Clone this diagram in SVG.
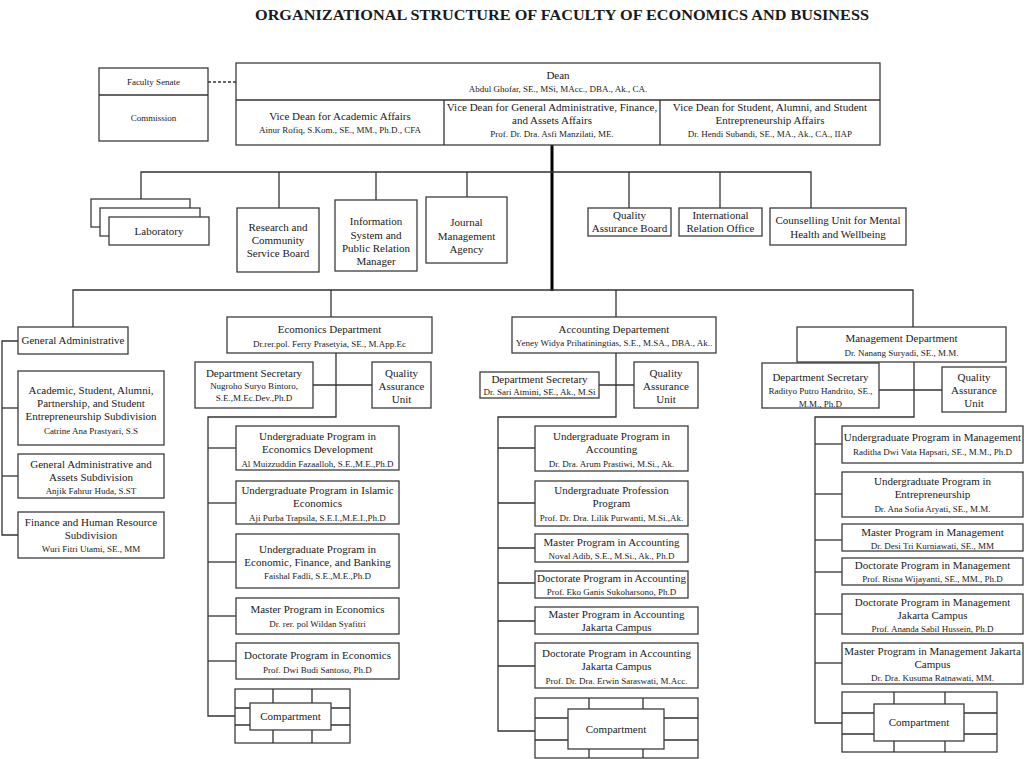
<svg xmlns="http://www.w3.org/2000/svg" width="1024" height="759" viewBox="0 0 1024 759">
<style>
.b{fill:#fff;stroke:#3c3c3c;stroke-width:1.3}
.c{fill:none;stroke:#333;stroke-width:1.3}
.t{font-family:"Liberation Serif","Times New Roman",serif;font-size:11px;text-anchor:middle;fill:#1a1a1a}
.n{font-size:9px}
.s{font-size:9px}
</style>
<rect width="1024" height="759" fill="#fff"/>
<text x="562" y="20" class="t" style="font-size:15px;font-weight:bold" textLength="614" lengthAdjust="spacingAndGlyphs">ORGANIZATIONAL STRUCTURE OF FACULTY OF ECONOMICS AND BUSINESS</text>

<g id="connectors">
<line x1="208" y1="82" x2="236" y2="82" class="c" stroke-dasharray="3,2"/>
<line x1="552" y1="145" x2="552" y2="291" stroke="#000" stroke-width="3"/>
<polyline class="c" points="141,199 141,172 811,172 811,208"/>
<line class="c" x1="279" y1="172" x2="279" y2="208"/>
<line class="c" x1="376" y1="172" x2="376" y2="200"/>
<line class="c" x1="467" y1="172" x2="467" y2="197"/>
<line class="c" x1="629" y1="172" x2="629" y2="208"/>
<line class="c" x1="720" y1="172" x2="720" y2="208"/>
<polyline class="c" points="73,327 73,290 913,290 913,327"/>
<line class="c" x1="331" y1="290" x2="331" y2="317"/>
<line class="c" x1="616" y1="290" x2="616" y2="317"/>
<polyline class="c" points="18,341 2,341 2,535 18,535"/>
<line class="c" x1="2" y1="408" x2="18" y2="408"/>
<line class="c" x1="2" y1="476" x2="18" y2="476"/>
<polyline class="c" points="336,353 336,417 208,417 208,716 236,716"/>
<line class="c" x1="313" y1="385" x2="372" y2="385"/>
<line class="c" x1="208" y1="448" x2="236" y2="448"/>
<line class="c" x1="208" y1="503" x2="236" y2="503"/>
<line class="c" x1="208" y1="562" x2="236" y2="562"/>
<line class="c" x1="208" y1="616" x2="236" y2="616"/>
<line class="c" x1="208" y1="661" x2="236" y2="661"/>
<polyline class="c" points="616,353 616,417 498,417 498,731 535,731"/>
<line class="c" x1="599" y1="385" x2="634" y2="385"/>
<line class="c" x1="498" y1="448" x2="535" y2="448"/>
<line class="c" x1="498" y1="503" x2="535" y2="503"/>
<line class="c" x1="498" y1="548" x2="535" y2="548"/>
<line class="c" x1="498" y1="583" x2="535" y2="583"/>
<line class="c" x1="498" y1="621" x2="535" y2="621"/>
<line class="c" x1="498" y1="666" x2="535" y2="666"/>
<polyline class="c" points="914,362 914,417 815,417 815,723 842,723"/>
<line class="c" x1="879" y1="390" x2="942" y2="390"/>
<line class="c" x1="815" y1="444" x2="842" y2="444"/>
<line class="c" x1="815" y1="494" x2="842" y2="494"/>
<line class="c" x1="815" y1="540" x2="842" y2="540"/>
<line class="c" x1="815" y1="572" x2="842" y2="572"/>
<line class="c" x1="815" y1="614" x2="842" y2="614"/>
<line class="c" x1="815" y1="663" x2="842" y2="663"/>
</g>

<g id="senate">
<rect class="b" x="99" y="68" width="109" height="73"/>
<line class="c" x1="99" y1="95" x2="208" y2="95"/>
<text class="t s" x="153.5" y="85">Faculty Senate</text>
<text class="t s" x="153.5" y="121">Commission</text>
</g>

<g id="dean">
<rect class="b" x="236" y="63" width="644" height="82"/>
<line class="c" x1="236" y1="100" x2="880" y2="100"/>
<line class="c" x1="444" y1="100" x2="444" y2="145"/>
<line class="c" x1="660" y1="100" x2="660" y2="145"/>
<text class="t" x="558" y="79">Dean</text>
<text class="t n" x="558" y="92">Abdul Ghofar, SE., MSi, MAcc., DBA., Ak., CA.</text>
<text class="t" x="340" y="120">Vice Dean for Academic Affairs</text>
<text class="t n" x="340" y="133">Ainur Rofiq, S.Kom., SE., MM., Ph.D., CFA</text>
<text class="t" x="552" y="111">Vice Dean for General Administrative, Finance,</text>
<text class="t" x="552" y="124">and Assets Affairs</text>
<text class="t n" x="552" y="137">Prof. Dr. Dra. Asfi Manzilati, ME.</text>
<text class="t" x="770" y="111">Vice Dean for Student, Alumni, and Student</text>
<text class="t" x="770" y="124">Entrepreneurship Affairs</text>
<text class="t n" x="770" y="137">Dr. Hendi Subandi, SE., MA., Ak., CA., IIAP</text>
</g>

<g id="laboratory">
<rect class="b" x="91" y="199" width="99" height="28"/>
<rect class="b" x="100" y="208" width="100" height="28"/>
<rect class="b" x="109" y="217" width="100" height="28"/>
<text class="t" x="159" y="235">Laboratory</text>
</g>
<g id="research">
<rect class="b" x="237" y="208" width="82" height="64"/>
<text class="t" x="278" y="231">Research and</text>
<text class="t" x="278" y="244">Community</text>
<text class="t" x="278" y="257">Service Board</text>
</g>
<g id="infosys">
<rect class="b" x="335" y="200" width="82" height="71"/>
<text class="t" x="376" y="225">Information</text>
<text class="t" x="376" y="239">System and</text>
<text class="t" x="376" y="252">Public Relation</text>
<text class="t" x="376" y="265">Manager</text>
</g>
<g id="journal">
<rect class="b" x="426" y="197" width="81" height="66"/>
<text class="t" x="466.5" y="226">Journal</text>
<text class="t" x="466.5" y="240">Management</text>
<text class="t" x="466.5" y="253">Agency</text>
</g>
<g id="qab">
<rect class="b" x="588" y="208" width="83" height="28"/>
<text class="t" x="629.5" y="219">Quality</text>
<text class="t" x="629.5" y="232">Assurance Board</text>
</g>
<g id="intl">
<rect class="b" x="679" y="208" width="83" height="28"/>
<text class="t" x="720.5" y="219">International</text>
<text class="t" x="720.5" y="232">Relation Office</text>
</g>
<g id="counselling">
<rect class="b" x="770" y="208" width="136" height="37"/>
<text class="t" x="838" y="224">Counselling Unit for Mental</text>
<text class="t" x="838" y="238">Health and Wellbeing</text>
</g>

<g id="general-admin">
<rect class="b" x="18" y="327" width="110" height="27"/>
<text class="t" x="73" y="344">General Administrative</text>
</g>
<g id="ga-academic">
<rect class="b" x="18" y="371" width="146" height="74"/>
<text class="t" x="91" y="394">Academic, Student, Alumni,</text>
<text class="t" x="91" y="407">Partnership, and Student</text>
<text class="t" x="91" y="420">Entrepreneurship Subdivision</text>
<text class="t n" x="91" y="434">Catrine Ana Prastyari, S.S</text>
</g>
<g id="ga-assets">
<rect class="b" x="18" y="454" width="146" height="44"/>
<text class="t" x="91" y="468">General Administrative and</text>
<text class="t" x="91" y="481">Assets Subdivision</text>
<text class="t n" x="91" y="494">Anjik Fahrur Huda, S.ST</text>
</g>
<g id="ga-finance">
<rect class="b" x="18" y="512" width="146" height="46"/>
<text class="t" x="91" y="526">Finance and Human Resource</text>
<text class="t" x="91" y="539">Subdivision</text>
<text class="t n" x="91" y="552">Wuri Fitri Utami, SE., MM</text>
</g>

<g id="econ-dept">
<rect class="b" x="227" y="317" width="205" height="36"/>
<text class="t" x="329.5" y="333">Ecomonics Department</text>
<text class="t n" x="329.5" y="347">Dr.rer.pol. Ferry Prasetyia, SE., M.App.Ec</text>
</g>
<g id="econ-sec">
<rect class="b" x="195" y="362" width="118" height="46"/>
<text class="t" x="254" y="377">Department Secretary</text>
<text class="t n" x="254" y="389">Nugroho Suryo Bintoro,</text>
<text class="t n" x="254" y="401">S.E.,M.Ec.Dev.,Ph.D</text>
</g>
<g id="econ-qau">
<rect class="b" x="372" y="362" width="59" height="46"/>
<text class="t" x="401.5" y="377">Quality</text>
<text class="t" x="401.5" y="390">Assurance</text>
<text class="t" x="401.5" y="403">Unit</text>
</g>
<g id="econ-p1">
<rect class="b" x="236" y="426" width="163" height="44"/>
<text class="t" x="317.5" y="440">Undergraduate Program in</text>
<text class="t" x="317.5" y="453">Economics Development</text>
<text class="t n" x="317.5" y="467">Al Muizzuddin Fazaalloh, S.E.,M.E.,Ph.D</text>
</g>
<g id="econ-p2">
<rect class="b" x="236" y="481" width="163" height="43"/>
<text class="t" x="317.5" y="494">Undergraduate Program in Islamic</text>
<text class="t" x="317.5" y="507">Economics</text>
<text class="t n" x="317.5" y="521">Aji Purba Trapsila, S.E.I.,M.E.I.,Ph.D</text>
</g>
<g id="econ-p3">
<rect class="b" x="236" y="534" width="163" height="54"/>
<text class="t" x="317.5" y="553">Undergraduate Program in</text>
<text class="t" x="317.5" y="566">Economic, Finance, and Banking</text>
<text class="t n" x="317.5" y="579">Faishal Fadli, S.E.,M.E.,Ph.D</text>
</g>
<g id="econ-p4">
<rect class="b" x="236" y="598" width="163" height="36"/>
<text class="t" x="317.5" y="613">Master Program in Economics</text>
<text class="t n" x="317.5" y="627">Dr. rer. pol Wildan Syafitri</text>
</g>
<g id="econ-p5">
<rect class="b" x="236" y="643" width="163" height="36"/>
<text class="t" x="317.5" y="659">Doctorate Program in Economics</text>
<text class="t n" x="317.5" y="673">Prof. Dwi Budi Santoso, Ph.D</text>
</g>
<g id="econ-comp">
<rect class="b" x="235" y="689" width="115" height="54"/>
<path class="c" d="M273,689V703M312,689V703M273,730V743M312,730V743M235,708H250M235,725H250M331,708H350M331,725H350"/>
<rect class="b" x="250" y="703" width="81" height="27"/>
<text class="t" x="290.5" y="720">Compartment</text>
</g>

<g id="acc-dept">
<rect class="b" x="512" y="317" width="204" height="36"/>
<text class="t" x="614" y="333">Accounting Departement</text>
<text class="t n" x="614" y="346">Yeney Widya Prihatiningtias, S.E., M.SA., DBA., Ak..</text>
</g>
<g id="acc-sec">
<rect class="b" x="480" y="372" width="119" height="26"/>
<text class="t" x="539.5" y="383">Department Secretary</text>
<text class="t n" x="539.5" y="395">Dr. Sari Atmini, SE., Ak., M.Si</text>
</g>
<g id="acc-qau">
<rect class="b" x="634" y="362" width="64" height="46"/>
<text class="t" x="666" y="377">Quality</text>
<text class="t" x="666" y="390">Assurance</text>
<text class="t" x="666" y="403">Unit</text>
</g>
<g id="acc-p1">
<rect class="b" x="535" y="426" width="153" height="45"/>
<text class="t" x="611.5" y="440">Undergraduate Program in</text>
<text class="t" x="611.5" y="453">Accounting</text>
<text class="t n" x="611.5" y="467">Dr. Dra. Arum Prastiwi, M.Si., Ak.</text>
</g>
<g id="acc-p2">
<rect class="b" x="535" y="481" width="153" height="45"/>
<text class="t" x="611.5" y="494">Undergraduate Profession</text>
<text class="t" x="611.5" y="507">Program</text>
<text class="t n" x="611.5" y="521">Prof. Dr. Dra. Lilik Purwanti, M.Si.,Ak.</text>
</g>
<g id="acc-p3">
<rect class="b" x="535" y="534" width="153" height="28"/>
<text class="t" x="611.5" y="546">Master Program in Accounting</text>
<text class="t n" x="611.5" y="559">Noval Adib, S.E., M.Si., Ak., Ph.D</text>
</g>
<g id="acc-p4">
<rect class="b" x="535" y="571" width="153" height="27"/>
<text class="t" x="611.5" y="582">Doctorate Program in Accounting</text>
<text class="t n" x="611.5" y="595">Prof. Eko Ganis Sukoharsono, Ph.D</text>
</g>
<g id="acc-p5">
<rect class="b" x="535" y="607" width="163" height="27"/>
<text class="t" x="616.5" y="618">Master Program in Accounting</text>
<text class="t" x="616.5" y="631">Jakarta Campus</text>
</g>
<g id="acc-p6">
<rect class="b" x="535" y="643" width="163" height="45"/>
<text class="t" x="616.5" y="657">Doctorate Program in Accounting</text>
<text class="t" x="616.5" y="670">Jakarta Campus</text>
<text class="t n" x="616.5" y="684">Prof. Dr. Dra. Erwin Saraswati, M.Acc.</text>
</g>
<g id="acc-comp">
<rect class="b" x="535" y="698" width="163" height="60"/>
<path class="c" d="M589,698V709M643,698V709M589,749V758M643,749V758M535,718H568M535,740H568M664,718H698M664,740H698"/>
<rect class="b" x="568" y="709" width="96" height="40"/>
<text class="t" x="616" y="733">Compartment</text>
</g>

<g id="mgmt-dept">
<rect class="b" x="797" y="327" width="209" height="35"/>
<text class="t" x="901.5" y="342">Management Department</text>
<text class="t n" x="901.5" y="356">Dr. Nanang Suryadi, SE., M.M.</text>
</g>
<g id="mgmt-sec">
<rect class="b" x="762" y="363" width="117" height="45"/>
<text class="t" x="820.5" y="381">Department Secretary</text>
<text class="t n" x="820.5" y="394">Radityo Putro Handrito, SE.,</text>
<text class="t n" x="820.5" y="407">M.M., Ph.D</text>
</g>
<g id="mgmt-qau">
<rect class="b" x="942" y="367" width="64" height="45"/>
<text class="t" x="974" y="381">Quality</text>
<text class="t" x="974" y="394">Assurance</text>
<text class="t" x="974" y="407">Unit</text>
</g>
<g id="mgmt-p1">
<rect class="b" x="842" y="426" width="181" height="37"/>
<text class="t" x="932.5" y="441">Undergraduate Program in Management</text>
<text class="t n" x="932.5" y="455">Raditha Dwi Vata Hapsari, SE., M.M., Ph.D</text>
</g>
<g id="mgmt-p2">
<rect class="b" x="842" y="472" width="181" height="45"/>
<text class="t" x="932.5" y="485">Undergraduate Program in</text>
<text class="t" x="932.5" y="498">Entrepreneurship</text>
<text class="t n" x="932.5" y="512">Dr. Ana Sofia Aryati, SE., M.M.</text>
</g>
<g id="mgmt-p3">
<rect class="b" x="842" y="524" width="181" height="27"/>
<text class="t" x="932.5" y="536">Master Program in Management</text>
<text class="t n" x="932.5" y="549">Dr. Desi Tri Kurniawati, SE., MM</text>
</g>
<g id="mgmt-p4">
<rect class="b" x="842" y="558" width="181" height="27"/>
<text class="t" x="932.5" y="569">Doctorate Program in Management</text>
<text class="t n" x="932.5" y="582">Prof. Risna Wijayanti, SE., MM., Ph.D</text>
</g>
<g id="mgmt-p5">
<rect class="b" x="842" y="594" width="181" height="40"/>
<text class="t" x="932.5" y="606">Doctorate Program in Management</text>
<text class="t" x="932.5" y="619">Jakarta Campus</text>
<text class="t n" x="932.5" y="632">Prof. Ananda Sabil Hussein, Ph.D</text>
</g>
<g id="mgmt-p6">
<rect class="b" x="842" y="643" width="181" height="41"/>
<text class="t" x="932.5" y="655">Master Program in Management Jakarta</text>
<text class="t" x="932.5" y="668">Campus</text>
<text class="t n" x="932.5" y="681">Dr. Dra. Kusuma Ratnawati, MM.</text>
</g>
<g id="mgmt-comp">
<rect class="b" x="842" y="692" width="155" height="60"/>
<path class="c" d="M894,692V704M945,692V704M894,741V752M945,741V752M842,713H874M842,734H874M964,713H997M964,734H997"/>
<rect class="b" x="874" y="704" width="90" height="37"/>
<text class="t" x="919" y="726">Compartment</text>
</g>
</svg>
